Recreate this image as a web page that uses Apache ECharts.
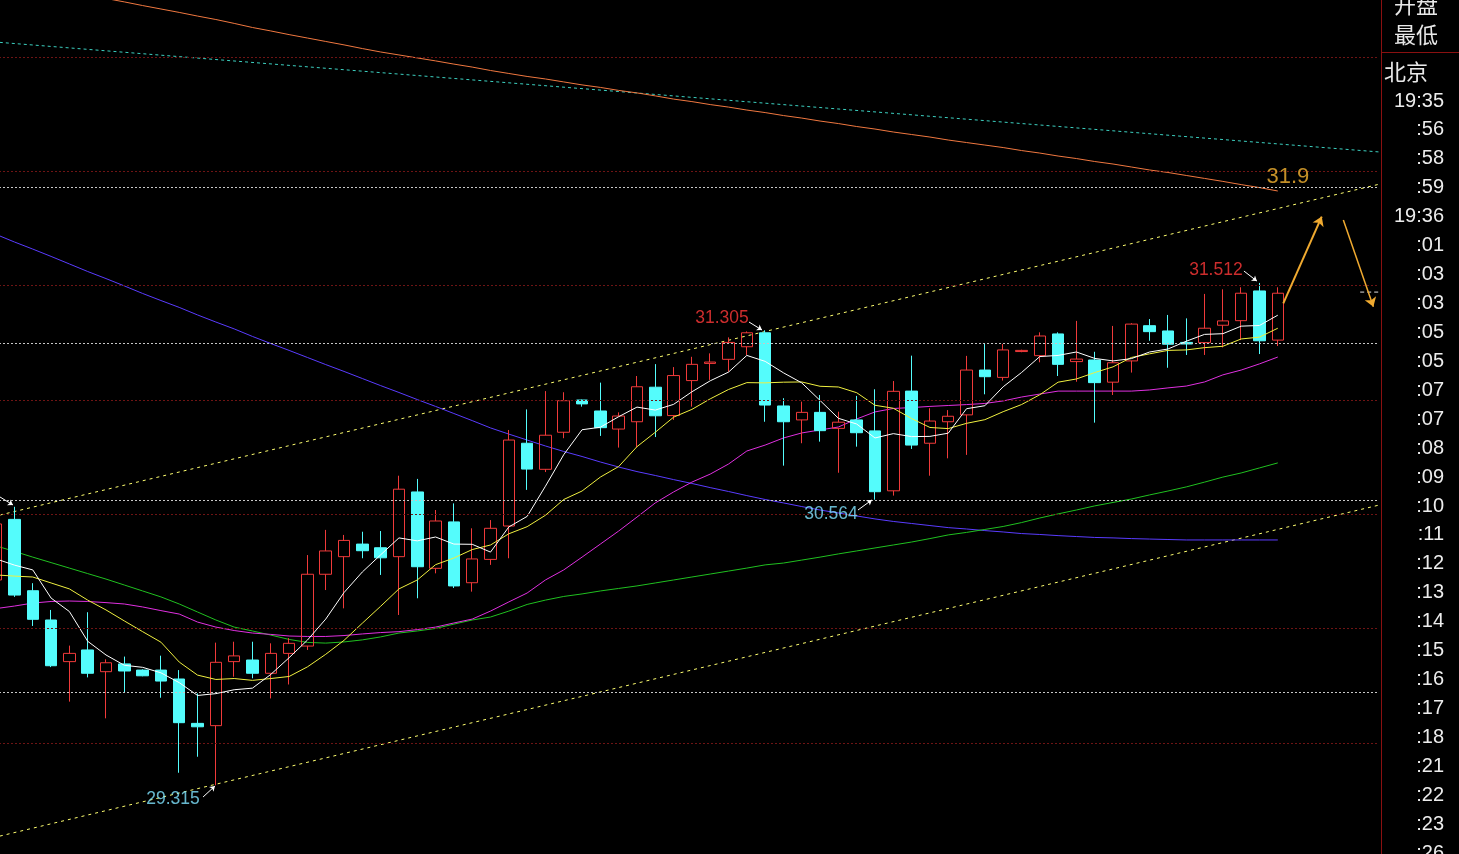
<!DOCTYPE html>
<html><head><meta charset="utf-8">
<script src="https://cdn.jsdelivr.net/npm/echarts@6/dist/echarts.min.js"></script>
<style>html,body{margin:0;padding:0;background:#000;overflow:hidden;width:1459px;height:854px;position:relative}
#c{position:absolute;left:-13px;top:0;width:1472px;height:854px;}</style>
</head><body><div id="c"></div>
<script>
// slot categories (candle index -1 .. 74; 70..74 are empty projection slots)
const slots = ['-1','0','1','2','3','4','5','6','7','8','9','10','11','12','13','14','15','16','17','18','19',
  '20','21','22','23','24','25','26','27','28','29','30','31','32','33','34','35','36','37','38','39',
  '40','41','42','43','44','45','46','47','48','49','50','51','52','53','54','55','56','57','58','59',
  '60','61','62','63','64','65','66','67','68','69','70','71','72','73','74'];

// candles, index -1 .. 69
const candleOpen = [30.213,
  30.478,30.166,30.038,29.856,29.907,29.812,29.846,29.819,29.819,29.780,
  29.586,29.576,29.856,29.863,29.805,29.892,29.924,30.238,30.315,30.370,
  30.354,30.315,30.598,30.264,30.467,30.201,30.303,30.449,30.811,30.697,
  30.859,31.000,30.952,30.873,30.905,31.056,30.932,31.085,31.160,31.178,
  31.233,31.294,30.974,30.913,30.946,30.876,30.913,30.865,30.603,31.039,
  30.811,30.905,30.935,31.131,31.099,31.212,31.194,31.289,31.168,31.175,
  31.078,31.171,31.325,31.302,31.252,31.251,31.327,31.347,31.477,31.262];
const candleClose = [30.458,
  30.147,30.041,29.838,29.892,29.805,29.851,29.815,29.794,29.771,29.589,
  29.571,29.853,29.881,29.805,29.892,29.936,30.238,30.340,30.386,30.341,
  30.310,30.610,30.271,30.471,30.187,30.305,30.439,30.825,30.698,30.846,
  30.997,30.983,30.879,30.930,31.058,30.931,31.107,31.156,31.166,31.252,
  31.294,30.978,30.905,30.946,30.866,30.903,30.857,30.599,31.038,30.803,
  30.908,30.929,31.131,31.102,31.219,31.217,31.280,31.156,31.179,31.076,
  31.163,31.332,31.299,31.244,31.245,31.314,31.346,31.467,31.259,31.467];
const candleLow = [30.169,
  30.139,30.012,29.832,29.681,29.787,29.608,29.720,29.792,29.698,29.370,
  29.440,29.315,29.790,29.783,29.695,29.756,29.907,30.169,30.089,30.308,
  30.235,30.060,30.133,30.242,30.178,30.162,30.279,30.308,30.607,30.685,
  30.833,30.971,30.843,30.792,30.793,30.838,30.913,30.971,31.088,31.124,
  31.197,30.905,30.713,30.811,30.818,30.682,30.796,30.564,30.582,30.786,
  30.669,30.745,30.760,31.025,31.085,31.209,31.165,31.105,31.080,30.901,
  31.022,31.120,31.259,31.141,31.197,31.197,31.230,31.262,31.201,31.236];
const candleHigh = [30.497,
  30.533,30.199,30.082,29.926,30.072,29.866,29.878,29.822,29.882,29.819,
  29.717,29.939,29.943,29.943,29.936,29.959,30.322,30.432,30.410,30.424,
  30.427,30.669,30.655,30.519,30.548,30.439,30.475,30.869,30.959,31.039,
  31.034,31.002,31.076,30.946,31.105,31.157,31.144,31.189,31.204,31.274,
  31.300,31.305,31.008,30.993,31.022,30.949,31.018,31.047,31.083,31.194,
  30.964,30.956,31.193,31.245,31.245,31.220,31.296,31.296,31.346,31.211,
  31.324,31.336,31.354,31.372,31.357,31.464,31.484,31.493,31.512,31.493];

// moving averages, index -1 .. 69
const maWhite = [30.305,
  30.278,30.257,30.134,30.075,29.945,29.885,29.840,29.831,29.807,29.764,
  29.708,29.716,29.733,29.740,29.800,29.873,29.950,30.042,30.158,30.248,
  30.323,30.397,30.384,30.401,30.370,30.369,30.335,30.445,30.491,30.623,
  30.761,30.870,30.881,30.927,30.969,30.956,30.981,31.036,31.084,31.122,
  31.195,31.169,31.119,31.075,30.998,30.920,30.895,30.834,30.853,30.840,
  30.841,30.855,30.962,30.975,31.058,31.120,31.190,31.195,31.210,31.182,
  31.171,31.181,31.210,31.223,31.257,31.287,31.290,31.323,31.326,31.371];
const maYellow = [30.235,
  30.230,30.226,30.200,30.174,30.125,30.082,30.034,29.987,29.941,29.854,
  29.797,29.778,29.782,29.774,29.782,29.791,29.833,29.888,29.949,30.024,
  30.098,30.174,30.213,30.280,30.309,30.346,30.366,30.415,30.446,30.496,
  30.565,30.602,30.663,30.709,30.796,30.859,30.925,30.959,31.005,31.046,
  31.076,31.075,31.078,31.079,31.060,31.057,31.032,30.977,30.964,30.919,
  30.880,30.875,30.898,30.914,30.949,30.980,31.023,31.078,31.092,31.120,
  31.145,31.186,31.202,31.217,31.219,31.229,31.235,31.267,31.275,31.314];
const maMagenta = [30.088,
  30.099,30.112,30.119,30.121,30.119,30.114,30.108,30.095,30.079,30.064,
  30.029,30.007,29.992,29.981,29.975,29.968,29.966,29.966,29.970,29.977,
  29.983,29.987,29.996,30.007,30.025,30.042,30.077,30.117,30.156,30.213,
  30.257,30.313,30.370,30.427,30.488,30.550,30.598,30.641,30.676,30.720,
  30.777,30.803,30.834,30.856,30.869,30.882,30.917,30.948,30.963,30.967,
  30.972,30.976,30.980,30.985,30.996,31.013,31.026,31.039,31.039,31.039,
  31.039,31.039,31.044,31.053,31.061,31.079,31.110,31.131,31.158,31.188];
const maGreen = [30.362,
  30.338,30.313,30.289,30.265,30.241,30.217,30.191,30.165,30.139,30.108,
  30.073,30.038,30.007,29.990,29.972,29.953,29.940,29.937,29.942,29.951,
  29.964,29.981,29.990,30.001,30.020,30.038,30.051,30.077,30.106,30.125,
  30.141,30.152,30.165,30.176,30.187,30.200,30.213,30.226,30.239,30.252,
  30.265,30.279,30.287,30.300,30.313,30.327,30.340,30.353,30.366,30.379,
  30.394,30.410,30.421,30.434,30.447,30.464,30.484,30.502,30.519,30.537,
  30.552,30.567,30.585,30.602,30.620,30.641,30.663,30.681,30.703,30.725];
const maPurple = [31.724,
  31.691,31.660,31.628,31.595,31.562,31.531,31.499,31.466,31.435,31.405,
  31.372,31.341,31.311,31.278,31.247,31.217,31.186,31.155,31.125,31.094,
  31.063,31.033,31.002,30.972,30.941,30.910,30.878,30.851,30.825,30.799,
  30.775,30.753,30.729,30.707,30.687,30.670,30.652,30.635,30.617,30.600,
  30.582,30.565,30.550,30.534,30.519,30.506,30.493,30.480,30.469,30.460,
  30.451,30.442,30.436,30.429,30.423,30.416,30.412,30.407,30.403,30.399,
  30.397,30.394,30.392,30.390,30.388,30.388,30.388,30.388,30.388,30.388];
const maOrange = [32.850,
  32.835,32.819,32.802,32.787,32.771,32.756,32.741,32.725,32.710,32.695,
  32.679,32.664,32.647,32.629,32.614,32.598,32.583,32.568,32.553,32.537,
  32.522,32.509,32.496,32.483,32.469,32.456,32.441,32.428,32.415,32.404,
  32.391,32.378,32.367,32.354,32.343,32.330,32.316,32.305,32.292,32.281,
  32.268,32.257,32.244,32.233,32.220,32.209,32.196,32.185,32.172,32.161,
  32.150,32.137,32.126,32.115,32.104,32.091,32.080,32.067,32.056,32.043,
  32.032,32.019,32.006,31.995,31.982,31.969,31.956,31.942,31.929,31.914];

// horizontal reference levels
const redLevels = [29.5, 30.0, 30.5, 31.0, 31.5, 32.0, 32.5];
const whiteLevels = [31.926, 31.248, 30.563, 29.721];

// trend lines [candle index, price]
const channelUpper = [[-0.8, 30.497], [74.5, 31.943]];
const channelLower = [[-0.8, 29.093], [74.5, 30.540]];
const cyanTrend = [[-0.8, 32.564], [74.5, 32.085]];
const lastPriceMark = [[73.5, 31.472], [74.5, 31.472]];

// projection arrows
const projUp = [[69.30, 31.423], [71.40, 31.802]];
const projDown = [[72.58, 31.787], [74.22, 31.408]];
const targetLabel = {text: '31.9', at: [69.55, 31.975]};

// extreme labels: text, label position, arrow start, arrow end
const extremes = [
  {text: '31.305', kind: 'hi', at: [38.64, 31.359], from: [40.12, 31.341], to: [40.83, 31.306]},
  {text: '31.512', kind: 'hi', at: [65.62, 31.569], from: [67.15, 31.564], to: [67.86, 31.520]},
  {text: '30.564', kind: 'lo', at: [44.60, 30.501], from: [46.07, 30.519], to: [46.83, 30.563]},
  {text: '29.315', kind: 'lo', at: [8.66, 29.255],  from: [10.30, 29.264], to: [10.95, 29.312]}
];
const cutArrow = {from: [-0.79, 30.576], to: [-0.08, 30.541]};

// right panel texts
const panelHeader = ['开盘', '最低'];
const panelCity = '北京';
const panelTimes = ['19:35',':56',':58',':59','19:36',':01',':03',':03',':05',':05',':07',':07',':08',
  ':09',':10',':11',':12',':13',':14',':15',':16',':17',':18',':21',':22',':23',':26'];

const SHIFT = 13; // canvas starts 13px left of the page
const RED = '#f03a3a', CYAN = '#54fcfc';
const FONT = '"Liberation Sans", Arial, sans-serif';
const CJK = '"Noto Sans CJK SC", sans-serif';

const candleData = candleOpen.map((o, k) => [o, candleClose[k], candleLow[k], candleHigh[k]]);

function maSeries(data, color, z) {
  return {type: 'line', xAxisIndex: 0, yAxisIndex: 0, data: data, symbol: 'none', smooth: false,
    lineStyle: {color: color, width: 1}, silent: true, z: z || 3};
}
function trendSeries(data, color, dash) {
  return {type: 'line', xAxisIndex: 1, yAxisIndex: 0, data: data, symbol: 'none',
    lineStyle: {color: color, width: 1, type: dash}, silent: true, z: 2, clip: false};
}

const series = [];
series.push({
  type: 'line', xAxisIndex: 0, yAxisIndex: 0, data: [], silent: true,
  markLine: {silent: true, symbol: 'none', label: {show: false}, animation: false,
    data: redLevels.map(v => ({yAxis: v, lineStyle: {color: '#6e1414', type: [2, 2], width: 1}}))
      .concat(whiteLevels.map(v => ({yAxis: v, lineStyle: {color: '#c8c8c8', type: [2, 2], width: 1}})))}
});
series.push(trendSeries(cyanTrend, '#3cd0c0', [3, 3]));
series.push(trendSeries(channelUpper, '#ffff70', [3, 4]));
series.push(trendSeries(channelLower, '#ffff70', [3, 4]));
series.push(trendSeries(lastPriceMark, '#e0e0e0', [4, 3]));
series.push({
  type: 'candlestick', xAxisIndex: 0, yAxisIndex: 0, data: candleData, barWidth: 12, silent: true, z: 3,
  clip: false,
  itemStyle: {color: 'rgba(0,0,0,0)', color0: CYAN, borderColor: RED, borderColor0: CYAN,
    borderColorDoji: RED, borderWidth: 1}
});
series.push(maSeries(maOrange, '#f07840'));
series.push(maSeries(maPurple, '#5a3cff'));
series.push(maSeries(maGreen, '#20c020'));
series.push(maSeries(maMagenta, '#e030e0'));
series.push(maSeries(maYellow, '#f0f040', 4));
series.push(maSeries(maWhite, '#ffffff', 4));

series.push({
  type: 'lines', coordinateSystem: 'cartesian2d', xAxisIndex: 1, yAxisIndex: 0, silent: true, z: 5,
  symbol: ['none', 'arrow'], symbolSize: 9,
  lineStyle: {color: '#f0aa30', width: 2, opacity: 1},
  data: [{coords: projUp}, {coords: projDown, lineStyle: {width: 1.5}}]
});
series.push({
  type: 'lines', coordinateSystem: 'cartesian2d', xAxisIndex: 1, yAxisIndex: 0, silent: true, z: 5,
  symbol: ['none', 'arrow'], symbolSize: 5,
  lineStyle: {color: '#ffffff', width: 1, opacity: 1},
  data: extremes.map(e => ({coords: [e.from, e.to]})).concat([{coords: [cutArrow.from, cutArrow.to]}])
});
series.push({
  type: 'scatter', xAxisIndex: 1, yAxisIndex: 0, silent: true, z: 6, symbolSize: 1,
  itemStyle: {color: 'rgba(0,0,0,0)'},
  data: extremes.map(e => ({value: e.at, label: {show: true, position: 'inside', formatter: e.text,
      color: e.kind === 'hi' ? '#ff3838' : '#80e4ff', fontSize: 17.5, fontFamily: FONT}}))
    .concat([{value: targetLabel.at, label: {show: true, position: 'inside', formatter: targetLabel.text,
      color: '#f5b432', fontSize: 22, fontFamily: FONT}}])
});

const graphic = [
  {type: 'rect', shape: {x: 1381 + SHIFT, y: 0, width: 78, height: 854}, style: {fill: '#000'}, z: 50},
  {type: 'line', shape: {x1: 1381.5 + SHIFT, y1: 0, x2: 1381.5 + SHIFT, y2: 854}, style: {stroke: '#8a1010', lineWidth: 1}, z: 51},
  {type: 'line', shape: {x1: 1381 + SHIFT, y1: 52.5, x2: 1459 + SHIFT, y2: 52.5}, style: {stroke: '#8a1010', lineWidth: 1}, z: 51},
  {type: 'text', x: 1416 + SHIFT, y: 5, style: {text: panelHeader[0], fill: '#e8e8e8', font: '22px ' + CJK, align: 'center', verticalAlign: 'middle'}, z: 52},
  {type: 'text', x: 1416 + SHIFT, y: 35, style: {text: panelHeader[1], fill: '#e8e8e8', font: '22px ' + CJK, align: 'center', verticalAlign: 'middle'}, z: 52},
  {type: 'text', x: 1384 + SHIFT, y: 72, style: {text: panelCity, fill: '#e8e8e8', font: '22px ' + CJK, align: 'left', verticalAlign: 'middle'}, z: 52}
];
panelTimes.forEach((t, k) => {
  graphic.push({type: 'text', x: 1444 + SHIFT, y: 101 + k * 28.93,
    style: {text: t, fill: '#ececec', font: '20px ' + FONT, align: 'right', verticalAlign: 'middle'}, z: 52});
});

const chart = echarts.init(document.getElementById('c'), null, {renderer: 'canvas'});
chart.setOption({
  backgroundColor: '#000',
  animation: false,
  grid: {left: 0, top: 0, width: 1391.5, height: 854, containLabel: false},
  xAxis: [
    {type: 'category', data: slots, boundaryGap: true, show: false},
    {type: 'value', min: -1.5, max: 74.5, show: false, splitLine: {show: false}}
  ],
  yAxis: [{type: 'value', min: 29.0147, max: 32.7493, show: false, splitLine: {show: false}, scale: true}],
  series: series,
  graphic: graphic
});
</script>
</body></html>
